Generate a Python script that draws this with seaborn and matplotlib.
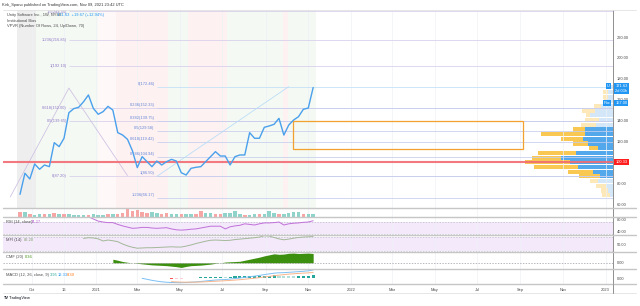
import numpy as np
import pandas as pd
import matplotlib
matplotlib.use("Agg")
import matplotlib.pyplot as plt
import matplotlib.dates as mdates
import matplotlib.transforms as mtrans
from matplotlib.lines import Line2D
from matplotlib.patches import Rectangle
import seaborn as sns

sns.set_theme(style="white")
plt.rcParams['font.family'] = ['Liberation Sans', 'DejaVu Sans']

# ---------------- data ----------------
weeks = pd.date_range('2020-09-14', periods=61, freq='W-MON')
close = [69.3, 89.5, 84.0, 98.4, 93.3, 97.4, 95.8, 118.8, 115.0, 123.0,
         147.5, 151.4, 152.7, 158.0, 164.5, 151.7, 146.0, 148.5, 153.6, 150.0,
         128.4, 126.1, 122.0, 111.1, 94.9, 105.4, 100.6, 95.8, 101.2, 97.4,
         100.6, 102.8, 101.2, 90.0, 87.8, 94.2, 95.2, 95.8, 100.6, 105.4,
         110.2, 106.0, 106.0, 97.4, 105.4, 107.0, 107.0, 128.4, 123.0, 123.0,
         133.5, 134.8, 136.4, 142.1, 126.1, 135.7, 140.5, 143.7, 150.8, 151.96, 171.63]
volume = [11, 11, 8, 5, 6, 7, 6, 9, 7, 7,
          7, 5, 5, 5, 5, 6, 4, 4, 6, 7,
          8, 10, 20, 14, 16, 13, 10, 11, 10, 8,
          9, 8, 6, 6, 6, 6, 8, 14, 10, 10,
          6, 7, 9, 10, 14, 8, 5, 5, 7, 6,
          7, 15, 10, 8, 8, 10, 13, 11, 7, 7, 8]
vol_dir = "duduududud" "uuuuduuudu" "ddddddduud" "duuduudduu" "dduuuuduud" "uuuduuuuduu"

rsi_start = 14
rsi = [88, 80, 73, 70, 68, 68, 62, 57, 53, 49, 50, 52, 52, 50, 49, 50, 51, 47, 44, 43,
       44, 46, 47, 50, 53, 56, 56, 56, 47, 54, 57, 59, 64, 62, 60, 64, 67, 67, 68, 70,
       60, 64, 66, 67, 69, 70, 74.27]
mfi_start = 13
mfi = [74, 77, 76, 72, 63, 67, 64, 60, 50, 42, 36, 32, 33, 34, 34, 35, 36, 37, 38, 37,
       37, 41, 46, 52, 57, 62, 66, 67, 66, 65, 66, 69, 71, 73, 75, 77, 80, 85, 84, 78,
       72, 68, 71, 75, 78, 80, 81, 82.2]
cmf_start = 19
cmf = [0.14, 0.10, 0.05, 0.02, 0.00, -0.02, -0.04, -0.06, -0.08, -0.09, -0.10, -0.11,
       -0.13, -0.15, -0.18, -0.14, -0.11, -0.10, -0.09, -0.07, -0.05, -0.02, 0.00, 0.03,
       0.04, 0.05, 0.06, 0.10, 0.14, 0.18, 0.22, 0.27, 0.31, 0.35, 0.33, 0.34, 0.37, 0.38,
       0.36, 0.37, 0.38, 0.36]
macd_start = 25
macd = [-0.5, -2.0, -3.6, -4.8, -5.8, -6.5, -6.9, -7.1, -7.2, -6.9, -6.4, -6.0, -5.3,
        -4.6, -3.8, -3.1, -2.7, -2.4, -1.6, -0.8, 0.0, 0.9, 1.9, 2.9, 4.0, 5.2, 6.3, 7.4,
        8.0, 8.2, 8.7, 9.2, 9.7, 10.3, 11.0, 12.33]
sig_start = 31
signal = [-5.6, -6.0, -6.3, -6.4, -6.4, -6.3, -6.1, -5.8, -5.4, -5.0, -4.6, -4.2, -3.7,
          -3.2, -2.6, -1.9, -1.1, -0.3, 0.6, 1.5, 2.5, 3.5, 4.4, 5.2, 5.9, 6.5, 7.0, 7.5,
          7.9, 8.39]
hist = [-1.3, -1.1, -0.9, -0.5, 0.0, 0.3, 0.8, 1.2, 1.6, 1.9, 1.9, 1.8, 2.1, 2.4, 2.6,
        2.8, 3.0, 3.2, 3.4, 3.7, 3.8, 3.9, 3.6, 3.0, 2.8, 2.7, 2.7, 2.8, 3.1, 3.95]

# VPVR (24 rows, up/down), bottom row first
vp_low, vp_high, vp_rows = 66.2, 174.2, 24
vp_up = [3, 5, 7, 15, 13, 20, 35, 43, 52, 37, 15, 25, 30, 28, 28, 17, 14, 23, 18, 12, 6, 5, 5, 2]
vp_down = [8, 7, 10, 8, 21, 25, 44, 45, 29, 38, 9, 15, 22, 44, 12, 15, 14, 4, 13, 7, 3, 5, 5, 3]
va_low, va_high = 84.0, 134.7

# fib tools
fibL_anchor = '2020-11-23'
fibL_ratio = ['1.5', '1.236', '1', '0.618', '0.5', '0']
fibL_price = [244.55, 216.85, 192.10, 152.00, 139.65, 87.20]
fibL_pts_date = ['2020-08-31', '2020-11-23', '2021-02-15']
fibL_pts_price = [66.8, 171.1, 87.2]
fibR_anchor = '2021-03-29'
fibR_ratio = ['0', '0.236', '0.382', '0.5', '0.618', '0.786', '1', '1.236']
fibR_price = [172.46, 152.33, 139.75, 129.58, 119.42, 104.94, 86.50, 66.17]
fibR_pts_date = ['2021-03-29', '2021-10-04']
fibR_pts_price = [86.50, 172.46]

hline_price = 100.33
box_dates = ['2021-10-10', '2022-09-04']
box_prices = [112.5, 139.6]

band_start = ['2020-09-10', '2020-10-07', '2021-01-04', '2021-01-29', '2021-04-14',
              '2021-05-12', '2021-07-08', '2021-09-26', '2021-10-03']
band_end = ['2020-10-07', '2021-01-04', '2021-01-29', '2021-04-14', '2021-05-12',
            '2021-07-08', '2021-09-26', '2021-10-03', '2021-11-12']
band_kind = ['gray', 'green', 'pink', 'red', 'green', 'red', 'green', 'red', 'green']

tick_dates = ['2020-10-01', '2020-11-16', '2021-01-01', '2021-03-01', '2021-05-01',
              '2021-07-01', '2021-09-01', '2021-11-01', '2022-01-01', '2022-03-01',
              '2022-05-01', '2022-07-01', '2022-09-01', '2022-11-01', '2023-01-01']
tick_labels = ['Oct', '16', '2021', 'Mar', 'May', 'Jul', 'Sep', 'Nov', '2022', 'Mar',
               'May', 'Jul', 'Sep', 'Nov', '2023']

# ---------------- layout ----------------
W, H = 640, 306
FS = 2.9
TXT = '#4a4a4a'
fig = plt.figure(figsize=(W / 100, H / 100), dpi=100)
fig.patch.set_facecolor('white')

def rect(x0, y0, x1, y1):
    return [x0 / W, 1 - y1 / H, (x1 - x0) / W, (y1 - y0) / H]

def ftext(x, y, s, **kw):
    kw.setdefault('fontsize', FS)
    kw.setdefault('color', TXT)
    kw.setdefault('va', 'center')
    fig.text(x / W, 1 - y / H, s, **kw)

t0 = mdates.date2num(pd.Timestamp('2020-09-14'))
XL = (t0 - 24.4, t0 + 849.6)
tick_pos = [pd.Timestamp(d) for d in tick_dates]

def base(ax, ylim, yticks, ylabels):
    ax.set_xlim(XL)
    ax.set_ylim(ylim)
    ax.set_facecolor('none')
    for s in ['top', 'bottom', 'left']:
        ax.spines[s].set_visible(False)
    ax.spines['right'].set_color('#8f8f8f')
    ax.spines['right'].set_linewidth(0.7)
    ax.set_xticks(tick_pos)
    ax.set_xticklabels([])
    ax.tick_params(axis='x', length=0)
    ax.grid(axis='x', color='#eef1f6', lw=0.5)
    ax.grid(axis='y', visible=False)
    ax.yaxis.tick_right()
    ax.set_yticks(yticks)
    ax.set_yticklabels(ylabels)
    ax.tick_params(axis='y', length=0, pad=3, labelsize=FS, labelcolor=TXT)
    ax.set_xlabel('')
    ax.set_ylabel('')

# main pane -----------------------------------------------------------
main_rect = rect(3, 10, 613, 208)
ax_vp = fig.add_axes(main_rect, zorder=0.5)
ax = fig.add_axes(main_rect, zorder=1)
price_ylim = (56.2, 245.9)

# VPVR
edges = np.linspace(vp_low, vp_high, vp_rows + 1)
centers = (edges[:-1] + edges[1:]) / 2
rowh = (vp_high - vp_low) / vp_rows
inva = (centers >= va_low) & (centers <= va_high)
up_c = np.where(inva, '#52a8ea', '#d3e7f8')
dn_c = np.where(inva, '#f8c853', '#fce8b8')
ax_vp.barh(centers, vp_up, height=rowh * 0.88, color=up_c, lw=0)
ax_vp.barh(centers, vp_down, left=vp_up, height=rowh * 0.88, color=dn_c, lw=0)
ax_vp.set_xlim(610, 0)
ax_vp.set_ylim(price_ylim)
ax_vp.axis('off')

base(ax, price_ylim, [60, 80, 120, 140, 160, 180, 200, 220],
     ['60.00', '80.00', '120.00', '140.00', '160.00', '180.00', '200.00', '220.00'])

band_col = {'gray': '#eeeeee', 'green': '#f4f9f3', 'pink': '#fef8f8', 'red': '#fdf1f1'}
for s, e, k in zip(band_start, band_end, band_kind):
    ax.axvspan(pd.Timestamp(s), pd.Timestamp(e), color=band_col[k], lw=0, zorder=0)

xr = XL[1]
# fib lines
for r, p in zip(fibL_ratio, fibL_price):
    x0 = mdates.date2num(pd.Timestamp(fibL_anchor))
    if p < price_ylim[1]:
        ax.hlines(p, x0, xr, color='#d6cdec', lw=0.55, zorder=2)
    ax.annotate(f'{r}({p:.2f})', (x0, min(p, 244.0)), xytext=(-1.5, 0), textcoords='offset points',
                ha='right', va='center', fontsize=FS, color='#8f78c8', zorder=3)
for r, p in zip(fibR_ratio, fibR_price):
    x0 = mdates.date2num(pd.Timestamp(fibR_anchor))
    col = '#bfe0f8' if r == '0' else '#c6cdee'
    ax.hlines(p, x0, xr, color=col, lw=0.55, zorder=2)
    ax.annotate(f'{r}({p:.2f})', (x0, p), xytext=(-1.5, 2.2), textcoords='offset points',
                ha='right', va='center', fontsize=FS, color='#6585d8', zorder=3)
ax.plot([pd.Timestamp(d) for d in fibL_pts_date], fibL_pts_price, color='#cdbfe3', lw=0.55, zorder=2)
ax.plot([pd.Timestamp(d) for d in fibR_pts_date], fibR_pts_price, color='#b6dcf8', lw=0.55, zorder=2)

# orange box
bx0, bx1 = [mdates.date2num(pd.Timestamp(d)) for d in box_dates]
ax.add_patch(Rectangle((bx0, box_prices[0]), bx1 - bx0, box_prices[1] - box_prices[0],
                       fill=False, ec='#f2a12e', lw=0.9, zorder=3))

# red horizontal line
ax.axhline(hline_price, color='#f26b73', lw=1.5, alpha=0.9, zorder=3)

# price line
sns.lineplot(x=weeks, y=close, ax=ax, color='#4aa0ec', lw=1.0, zorder=4)
ax.set_xlabel('')
ax.set_ylabel('')

# axis price boxes
btr = mtrans.blended_transform_factory(ax.transAxes, ax.transData)
def pbox(xa, p, s, fc, dy=0):
    ax.annotate(s, (xa, p), xycoords=btr, xytext=(0, dy), textcoords='offset points',
                ha='left', va='center', fontsize=FS, color='white', annotation_clip=False,
                bbox=dict(boxstyle='square,pad=0.25', fc=fc, ec='none'), zorder=6)
pbox(1.004, close[-1], f'{close[-1]:.2f}', '#2196f3', dy=1.2)
pbox(1.004, close[-1], '2d 03h', '#2196f3', dy=-2.6)
pbox(0.9905, close[-1], 'U', '#2196f3', dy=1.2)
pbox(1.004, 157.0, '157.00', '#2196f3')
pbox(0.9845, 157.0, 'Poc', '#2196f3')
pbox(1.004, hline_price, f'{hline_price:.2f}', '#ff1e1e')

# volume pane ----------------------------------------------------------
axv = fig.add_axes(rect(3, 208, 613, 217))
base(axv, (0, 21.5), [], [])
vcol = ['#8fd3cb' if d == 'u' else '#f6a7a5' for d in vol_dir]
axv.bar(weeks, volume, width=5.0, color=vcol, lw=0)

# RSI pane --------------------------------------------------------------
axr = fig.add_axes(rect(3, 217, 613, 235))
base(axr, (26.7, 86.7), [80, 40], ['80.00', '40.00'])
axr.axhspan(30, 70, color='#f4e8fb', lw=0, zorder=0)
for lv in (30, 70):
    axr.axhline(lv, color='#bcbcc8', lw=0.5, ls=(0, (2, 2)))
sns.lineplot(x=weeks[rsi_start:], y=rsi, ax=axr, color='#c070d8', lw=0.7)
axr.set_xlabel(''); axr.set_ylabel('')

# MFI pane --------------------------------------------------------------
axm = fig.add_axes(rect(3, 235, 613, 252))
base(axm, (15.7, 88.6), [50], ['50.00'])
axm.axhspan(20, 80, color='#f4e8fb', lw=0, zorder=0)
for lv in (20, 80):
    axm.axhline(lv, color='#bcbcc8', lw=0.5, ls=(0, (2, 2)))
sns.lineplot(x=weeks[mfi_start:], y=mfi, ax=axm, color='#a3b898', lw=0.7)
axm.set_xlabel(''); axm.set_ylabel('')

# CMF pane --------------------------------------------------------------
axc = fig.add_axes(rect(3, 252, 613, 269))
base(axc, (-0.24, 0.42), [0], ['0.00'])
axc.axhline(0, color='#9a9aa6', lw=0.5, ls=(0, (2, 2)))
axc.fill_between(weeks[cmf_start:], 0, cmf, color='#3d8f10', lw=0)

# MACD pane -------------------------------------------------------------
axd = fig.add_axes(rect(3, 269, 613, 284))
base(axd, (-9.2, 13.8), [0], ['0.00'])
hcol = []
prev = 0.0
for h in hist:
    if h >= 0:
        hcol.append('#26a69a' if h >= prev else '#b2dfdb')
    else:
        hcol.append('#ffcdd2' if h > prev else '#ff5252')
    prev = h
axd.bar(weeks[sig_start:], hist, width=4.5, color=hcol, lw=0)
sns.lineplot(x=weeks[macd_start:], y=macd, ax=axd, color='#7cc0f4', lw=0.7)
sns.lineplot(x=weeks[sig_start:], y=signal, ax=axd, color='#f8b58a', lw=0.7)
axd.set_xlabel(''); axd.set_ylabel('')
axd.set_xticklabels(tick_labels)
axd.tick_params(axis='x', labelsize=FS, labelcolor=TXT, pad=3)

# separators & frame ----------------------------------------------------
for yy in (208, 217, 235, 252, 269, 284):
    fig.add_artist(Line2D([3 / W, 636 / W], [1 - yy / H] * 2, color='#c6c6c6', lw=1.0))
fig.add_artist(Line2D([3 / W, 636 / W], [1 - 293 / H] * 2, color='#e2e2e2', lw=0.6))
fig.add_artist(Line2D([3 / W, 636 / W], [1 - 10 / H] * 2, color='#e2e2e2', lw=0.6))
fig.add_artist(Line2D([613 / W] * 2, [1 - 284 / H, 1 - 293 / H], color='#8f8f8f', lw=0.7))

# texts -----------------------------------------------------------------
ftext(2, 5, 'Kirk_Spano published on TradingView.com, Nov 09, 2021 23:42 UTC', color='#333333')
ftext(7, 15, 'Unity Software Inc., 1W, NYSE')
ftext(57, 15, '171.63  +19.67 (+12.94%)', color='#2196f3')
ftext(7, 20.5, 'Institutional Bias')
ftext(7, 26, 'VPVR (Number Of Rows, 24, Up/Down, 70)')
ftext(6, 222, 'RSI (14, close)')
ftext(31, 222, '74.27', color='#b55fd0')
ftext(6, 240, 'MFI (14)')
ftext(24, 240, '82.20', color='#7f9f6f')
ftext(6, 257, 'CMF (20)')
ftext(25, 257, '0.36', color='#3d8f10')
ftext(6, 275, 'MACD (12, 26, close, 9)')
ftext(50, 275, '3.95', color='#26a69a')
ftext(58, 275, '12.33', color='#2196f3')
ftext(67, 275, '8.39', color='#ff6d00')
ftext(3, 298, 'TV', color='#131722', fontweight='bold')
ftext(9, 298, 'TradingView', color='#131722')

fig.savefig('out.png', dpi=100, facecolor='white')
